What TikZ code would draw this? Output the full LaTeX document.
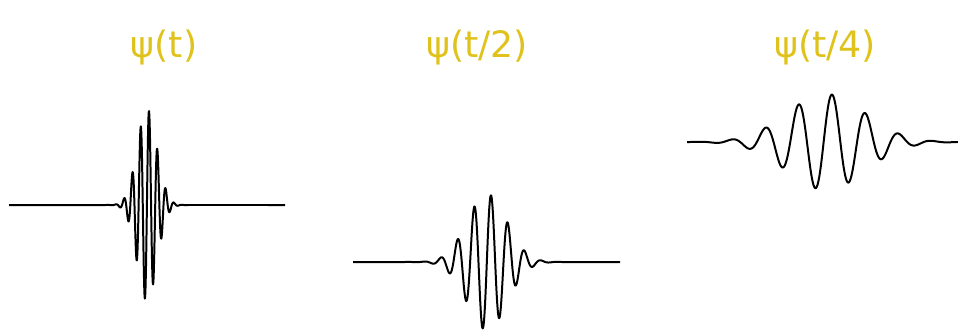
\documentclass[tikz,border=0pt]{standalone}
\usepackage{fontspec}
\setmainfont{DejaVu Sans}
\usepackage{xcolor}
\usepackage{tikz}
\definecolor{WaveGold}{HTML}{E0C21C}

\begin{document}
\begin{tikzpicture}[x=0.03cm,y=-0.03cm,
    wave/.style={black, line width=1.7pt, line join=round},
    lbl/.style={WaveGold, font=\fontsize{31}{34}\selectfont, inner sep=0pt}]
  \useasboundingbox (0,0) rectangle (958,334);
  % labels
  \node[lbl] (psione) at (164,47) {ψ(t)};
  \node[lbl] (psitwo) at (477,47) {ψ(t/2)};
  \node[lbl] (psifour) at (825,47) {ψ(t/4)};
  % psi(t)
  \draw[wave] (9,205) -- (105,205) -- plot[domain=105:190, samples=300]
    (\x, {205 - 96*exp(-((\x-147)/14)^2)*cos((\x-149)/8.3*360)}) -- (285,205);
  % psi(t/2)
  \draw[wave] (353,262) -- (405,262) -- plot[domain=405:569, samples=400]
    (\x, {262 - 68*exp(-((\x-487)/28)^2)*cos((\x-491)/16.7*360)}) -- (620,262);
  % psi(t/4)
  \draw[wave] plot[domain=687:958, samples=400]
    (\x, {142 - 48*exp(-((\x-826)/55)^2)*cos((\x-832)/33.4*360)});
\end{tikzpicture}
\end{document}
